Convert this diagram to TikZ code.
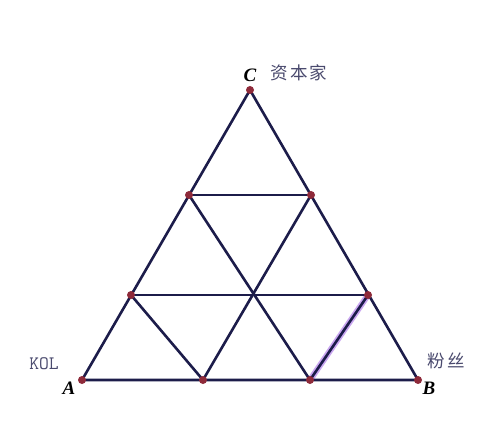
\documentclass[tikz,border=0pt]{standalone}
\usepackage{fontspec}
\setmainfont{Liberation Serif}
\newfontfamily\cjk{Noto Sans CJK SC}
\definecolor{edgecol}{HTML}{1C1C4A}
\definecolor{dotcol}{HTML}{8E2A3A}
\definecolor{labcol}{HTML}{4A4A6E}
\definecolor{hilite}{HTML}{C9A6F0}
\begin{document}
\begin{tikzpicture}[x=1pt,y=-1pt,
  edge/.style={draw=edgecol,line width=2.6pt},
  vtx/.style={circle,fill=dotcol,inner sep=0pt,minimum size=8pt},
  letter/.style={font=\fontsize{19}{19}\selectfont\bfseries\itshape,text=black},
  cjklab/.style={font=\cjk\fontsize{17.5}{17.5}\selectfont,text=labcol}]
\useasboundingbox[fill=white] (0,0) rectangle (500,430);
% vertices
\coordinate (A) at (82,380);
\coordinate (B) at (418,380);
\coordinate (C) at (250,90);
\coordinate (L1) at (131,295);
\coordinate (L2) at (189,195);
\coordinate (R1) at (368,295);
\coordinate (R2) at (311,195);
\coordinate (B1) at (203,380);
\coordinate (B2) at (310,380);
% highlight
\draw[hilite,line width=6pt,line cap=round] (R1) -- (B2);
% edges
\draw[edge,line join=miter] (A) -- (B) -- (C) -- cycle;
\draw[edge] (L2) -- (R2);
\draw[edge] (L1) -- (R1);
\draw[edge] (L2) -- (B2);
\draw[edge] (R2) -- (B1);
\draw[edge] (L1) -- (B1);
\draw[edge] (R1) -- (B2);
% dots
\foreach \p in {A,B,C,L1,L2,R1,R2,B1,B2}
  \node[vtx] (d\p) at (\p) {};
% labels
\node[letter] (lC) at (250,75) {C};
\node[letter] (lA) at (69,388) {A};
\node[letter] (lB) at (429,388) {B};
\node[cjklab] (zb) at (299,73) {资\hspace{2pt}本\hspace{2pt}家};
\node[cjklab] (fs) at (446,361) {粉\hspace{3pt}丝};
\node[font=\ttfamily\fontsize{19}{19}\selectfont,text=labcol] (kol) at (44,364) {KOL};
\end{tikzpicture}
\end{document}
